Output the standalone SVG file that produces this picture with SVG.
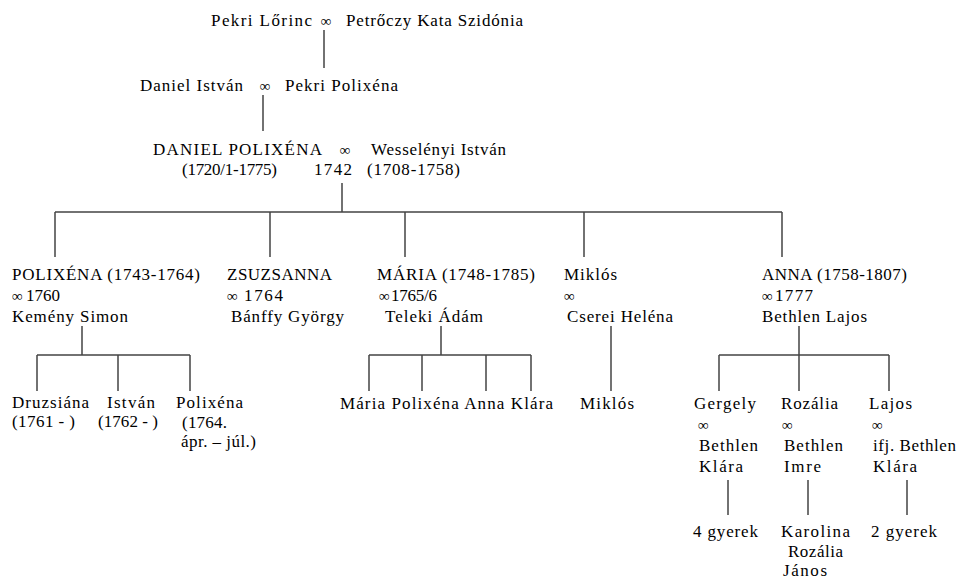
<svg xmlns="http://www.w3.org/2000/svg" width="960" height="580" viewBox="0 0 960 580">
<style>
text{font-family:"Liberation Serif","Times New Roman",serif;font-size:17px;fill:#000}
.m{text-anchor:middle}
.s{font-size:15px}
.c{fill:none;stroke:#444;stroke-width:1.5}
</style>
<rect width="960" height="580" fill="#fff"/>
<g id="connectors" class="c">
<path d="M324 30V68M263 95V131M342 183V212M55 212H782M55 212V257M270 212V257M405 212V257M584 212V257M782 212V257"/>
<path d="M82 326V355M37 355H190M37 355V391M118 355V391M190 355V391"/>
<path d="M441 326V355M369 355H531M369 355V391M422 355V391M486 355V391M531 355V391"/>
<path d="M611 326V391"/>
<path d="M799 326V391M719 355H889M719 355V391M889 355V391"/>
<path d="M728 480V515M808 480V515M907 480V515"/>
</g>
<g id="n-pekri-lorinc">
<text x="211" y="26" textLength="101">Pekri Lőrinc</text>
<text x="326" y="26" class="m s">∞</text>
<text x="346" y="26" textLength="177">Petrőczy Kata Szidónia</text>
</g>
<g id="n-daniel-istvan">
<text x="140" y="91" textLength="103">Daniel István</text>
<text x="265" y="91" class="m s">∞</text>
<text x="285" y="91" textLength="113">Pekri Polixéna</text>
</g>
<g id="n-daniel-polixena">
<text x="153" y="155" textLength="169">DANIEL POLIXÉNA</text>
<text x="345" y="155" class="m s">∞</text>
<text x="371" y="155" textLength="135">Wesselényi István</text>
<text x="182" y="175" textLength="95">(1720/1-1775)</text>
<text x="314" y="175" textLength="38">1742</text>
<text x="367" y="175" textLength="93">(1708-1758)</text>
</g>
<g id="n-polixena">
<text x="12" y="280" textLength="188">POLIXÉNA (1743-1764)</text>
<text x="12" y="301" class="s">∞</text>
<text x="26" y="301" textLength="34">1760</text>
<text x="12" y="322" textLength="116">Kemény Simon</text>
</g>
<g id="n-zsuzsanna">
<text x="227" y="280" textLength="105">ZSUZSANNA</text>
<text x="227" y="301" class="s">∞</text>
<text x="244" y="301" textLength="39">1764</text>
<text x="231" y="322" textLength="113">Bánffy György</text>
</g>
<g id="n-maria">
<text x="377" y="280" textLength="158">MÁRIA (1748-1785)</text>
<text x="379" y="301" class="s">∞</text>
<text x="391" y="301" textLength="46">1765/6</text>
<text x="385" y="322" textLength="98">Teleki Ádám</text>
</g>
<g id="n-miklos">
<text x="564" y="280" textLength="53">Miklós</text>
<text x="564" y="301" class="s">∞</text>
<text x="567" y="322" textLength="106">Cserei Heléna</text>
</g>
<g id="n-anna">
<text x="762" y="280" textLength="145">ANNA (1758-1807)</text>
<text x="762" y="301" class="s">∞</text>
<text x="775" y="301" textLength="38">1777</text>
<text x="762" y="322" textLength="105">Bethlen Lajos</text>
</g>
<g id="n-druzsiana">
<text x="12" y="408" textLength="77">Druzsiána</text>
<text x="12" y="427" textLength="63">(1761 - )</text>
</g>
<g id="n-istvan">
<text x="107" y="408" textLength="48">István</text>
<text x="98" y="427" textLength="60">(1762 - )</text>
</g>
<g id="n-polixena2">
<text x="176" y="408" textLength="67">Polixéna</text>
<text x="182" y="428" textLength="45">(1764.</text>
<text x="181" y="447" textLength="75">ápr. – júl.)</text>
</g>
<g id="n-maria-children">
<text x="340" y="409" textLength="213">Mária Polixéna Anna Klára</text>
</g>
<g id="n-miklos2">
<text x="580" y="409" textLength="54">Miklós</text>
</g>
<g id="n-gergely">
<text x="694" y="409" textLength="62">Gergely</text>
<text x="698" y="430" class="s">∞</text>
<text x="699" y="451" textLength="59">Bethlen</text>
<text x="699" y="472" textLength="44">Klára</text>
</g>
<g id="n-rozalia">
<text x="781" y="409" textLength="57">Rozália</text>
<text x="782" y="430" class="s">∞</text>
<text x="784" y="451" textLength="59">Bethlen</text>
<text x="784" y="472" textLength="37">Imre</text>
</g>
<g id="n-lajos">
<text x="869" y="409" textLength="43">Lajos</text>
<text x="872" y="430" class="s">∞</text>
<text x="873" y="451" textLength="83">ifj. Bethlen</text>
<text x="873" y="472" textLength="44">Klára</text>
</g>
<g id="n-gergely-children">
<text x="693" y="537" textLength="65">4 gyerek</text>
</g>
<g id="n-rozalia-children">
<text x="781" y="537" textLength="69">Karolina</text>
<text x="788" y="557" textLength="55">Rozália</text>
<text x="783" y="576" textLength="44">János</text>
</g>
<g id="n-lajos-children">
<text x="871" y="537" textLength="66">2 gyerek</text>
</g>
</svg>
